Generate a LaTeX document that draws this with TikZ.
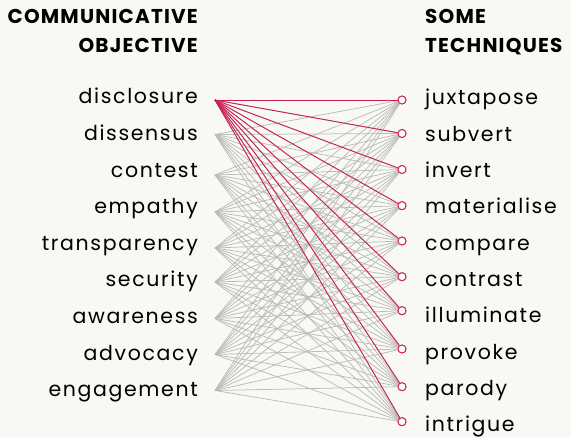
\documentclass[tikz,border=0pt]{standalone}
\usepackage{fontspec}
\setmainfont{Poppins}[LetterSpace=8]
\newfontfamily\headfont{Poppins}[LetterSpace=6]
\usepackage{tikz}
\usetikzlibrary{positioning}
\definecolor{paper}{HTML}{F8F8F4}
\definecolor{crimson}{HTML}{CC1F57}
\definecolor{wiregray}{HTML}{BBBBBB}

\begin{document}
\begin{tikzpicture}[
    x=1pt, y=-1pt,
    heading/.style={font=\headfont\fontsize{20}{22}\selectfont\bfseries, inner sep=0pt},
    objective/.style={anchor=base east, font=\fontsize{20.5}{24}\selectfont, inner sep=0pt},
    technique/.style={anchor=base west, font=\fontsize{20.5}{24}\selectfont, inner sep=0pt},
    port/.style={circle, draw=crimson, fill=white, line width=0.9pt, minimum size=8pt, inner sep=0pt},
    wire/.style={draw=wiregray, line width=0.75pt},
    hotwire/.style={draw=crimson, line width=0.9pt}
]
    \fill[paper] (0,0) rectangle (571,438);

    \node[heading, anchor=base east] (h1) at (198,24) {COMMUNICATIVE};
    \node[heading, anchor=base east] (h2) at (198,53) {OBJECTIVE};
    \node[heading, anchor=base west] (h3) at (425,24) {SOME};
    \node[heading, anchor=base west] (h4) at (425,53) {TECHNIQUES};

    \foreach \name/\py [count=\i] in {disclosure/100, dissensus/134.5, contest/175,
        empathy/212, transparency/248, security/282, awareness/318.5,
        advocacy/354.5, engagement/390.5} {
        \coordinate (l\i) at (215,\py);
        \node[objective] (o\i) at (198,{104+(\i-1)*36.6}) {\name};
    }

    \foreach \name/\py [count=\j] in {juxtapose/100, subvert/133.5, invert/169.5,
        materialise/205.7, compare/241, contrast/276.7, illuminate/310.7,
        provoke/349, parody/386.7, intrigue/421.7} {
        \node[port] (r\j) at (402,\py) {};
        \node[technique] (t\j) at (425,{105+(\j-1)*36.33}) {\name};
    }

    \foreach \i in {1,...,9}
        \foreach \j in {1,...,10}
            \draw[wire] (l\i) -- (r\j);
    \foreach \j in {1,...,10}
        \draw[hotwire] (l1) -- (r\j);
    \foreach \j in {1,...,10}
        \node[port] at (r\j) {};
\end{tikzpicture}
\end{document}
